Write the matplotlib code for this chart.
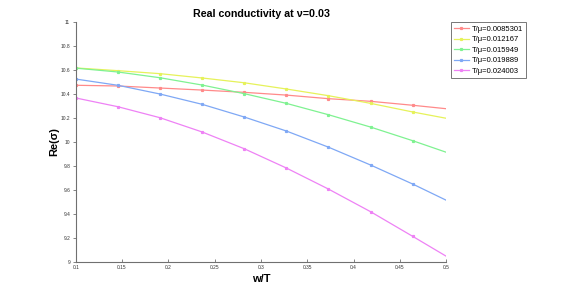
import matplotlib
matplotlib.use("Agg")
import matplotlib.pyplot as plt

plt.rcParams['font.family'] = ['Liberation Sans', 'DejaVu Sans']

# w/T sample positions (markers) plus line end at 0.5
x_vals = [0.1, 0.14545, 0.19091, 0.23636, 0.28182, 0.32727, 0.37273, 0.41818, 0.46364, 0.5]

labels = ["T/\u03bc=0.0085301", "T/\u03bc=0.012167", "T/\u03bc=0.015949",
          "T/\u03bc=0.019889", "T/\u03bc=0.024003"]

red_vals = [10.474, 10.468, 10.451, 10.434, 10.415, 10.392, 10.362, 10.340, 10.307, 10.278]
yellow_vals = [10.619, 10.596, 10.571, 10.535, 10.495, 10.443, 10.387, 10.323, 10.251, 10.198]
green_vals = [10.617, 10.585, 10.537, 10.476, 10.404, 10.323, 10.228, 10.125, 10.011, 9.914]
blue_vals = [10.526, 10.474, 10.401, 10.315, 10.209, 10.092, 9.957, 9.808, 9.649, 9.513]
magenta_vals = [10.368, 10.295, 10.203, 10.084, 9.944, 9.783, 9.607, 9.418, 9.212, 9.045]

series = [red_vals, yellow_vals, green_vals, blue_vals, magenta_vals]
colors = ["#ff8a8a", "#e6f25a", "#7ff291", "#7fa8f5", "#ee82f5"]

xticks = [0.1, 0.15, 0.2, 0.25, 0.3, 0.35, 0.4, 0.45, 0.5]
xtick_labels = ["0.1", "0.15", "0.2", "0.25", "0.3", "0.35", "0.4", "0.45", "0.5"]
yticks = [9, 9.2, 9.4, 9.6, 9.8, 10, 10.2, 10.4, 10.6, 10.8, 11]
ytick_labels = ["9", "9.2", "9.4", "9.6", "9.8", "10", "10.2", "10.4", "10.6", "10.8", "11"]

fig = plt.figure(figsize=(5.81, 2.94), dpi=100)
ax = fig.add_axes([0.1303, 0.1099, 0.6379, 0.8142])

for vals, c, lab in zip(series, colors, labels):
    ax.plot(x_vals, vals, color=c, lw=0.9, marker='s', markersize=1.3,
            markevery=list(range(9)), markerfacecolor=c, markeredgecolor=c, label=lab)

ax.set_xlim(0.1, 0.5)
ax.set_ylim(9, 11)
ax.set_xticks(xticks)
ax.set_xticklabels(xtick_labels)
ax.set_yticks(yticks)
ax.set_yticklabels(ytick_labels)

axis_col = "#707070"
for s in ['top', 'right']:
    ax.spines[s].set_visible(False)
for s in ['left', 'bottom']:
    ax.spines[s].set_color(axis_col)
    ax.spines[s].set_linewidth(0.8)
ax.tick_params(axis='x', direction='in', length=2.5, width=0.6, colors=axis_col,
               labelsize=3.5, labelcolor='#333333', pad=2.5)
ax.tick_params(axis='y', direction='out', length=2.5, width=0.6, colors=axis_col,
               labelsize=3.5, labelcolor='#333333', pad=1.5)

ax.set_title("Real conductivity at \u03bd=0.03", fontsize=7.7, fontweight='bold', pad=4)
ax.set_xlabel("w/T", fontsize=8, fontweight='bold', labelpad=3)
ax.set_ylabel("Re(\u03c3)", fontsize=8, fontweight='bold', labelpad=1)

leg = ax.legend(loc='upper left', bbox_to_anchor=(1.012, 1.0), fontsize=5.5,
                frameon=True, fancybox=False, borderpad=0.4, labelspacing=0.42,
                handlelength=2.0, handletextpad=0.4, borderaxespad=0.0)
leg.get_frame().set_edgecolor('#555555')
leg.get_frame().set_linewidth(0.7)

fig.savefig("out.png", dpi=100)
